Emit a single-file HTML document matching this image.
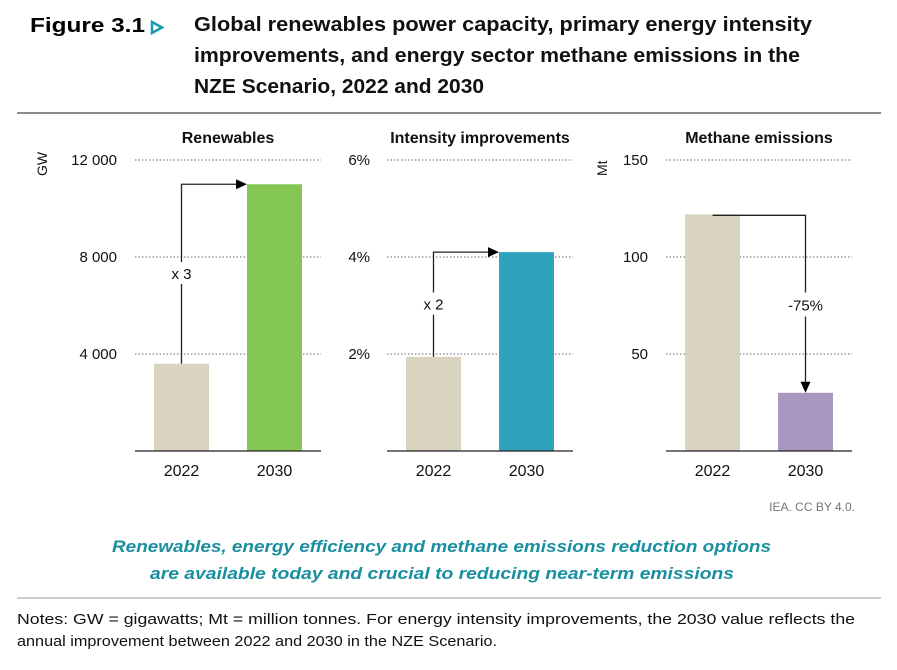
<!DOCTYPE html>
<html><head><meta charset="utf-8"><style>
body{margin:0;background:#fff;width:897px;height:665px;overflow:hidden;font-family:"Liberation Sans",sans-serif}
</style></head><body>
<svg width="897" height="665" xmlns="http://www.w3.org/2000/svg" font-family="Liberation Sans, sans-serif">
<text x="30" y="32" font-size="20" font-weight="900" fill="#000" textLength="115" lengthAdjust="spacingAndGlyphs">Figure 3.1</text>
<path d="M152 22 L162 27.5 L152 33 Z" fill="none" stroke="#1a9bb0" stroke-width="2.5"/>
<g font-size="20" font-weight="bold" fill="#111">
<text x="194" y="31" textLength="618" lengthAdjust="spacingAndGlyphs">Global renewables power capacity, primary energy intensity</text>
<text x="194" y="62" textLength="606" lengthAdjust="spacingAndGlyphs">improvements, and energy sector methane emissions in the</text>
<text x="194" y="93" textLength="290" lengthAdjust="spacingAndGlyphs">NZE Scenario, 2022 and 2030</text>
</g>
<line x1="17" y1="113" x2="881" y2="113" stroke="#8c8c8c" stroke-width="2"/>
<g id="charts"></g>
<text x="855" y="511" font-size="12" fill="#777" text-anchor="end">IEA. CC BY 4.0.</text>
<g font-size="17" font-weight="bold" font-style="italic" fill="#1a8fa0">
<text x="112" y="552" textLength="659" lengthAdjust="spacingAndGlyphs">Renewables, energy efficiency and methane emissions reduction options</text>
<text x="150" y="579" textLength="584" lengthAdjust="spacingAndGlyphs">are available today and crucial to reducing near-term emissions</text>
</g>
<line x1="17" y1="598" x2="881" y2="598" stroke="#999" stroke-width="1"/>
<g font-size="15" fill="#111">
<text x="17" y="624" textLength="838" lengthAdjust="spacingAndGlyphs">Notes: GW = gigawatts; Mt = million tonnes. For energy intensity improvements, the 2030 value reflects the</text>
<text x="17" y="646" textLength="480" lengthAdjust="spacingAndGlyphs">annual improvement between 2022 and 2030 in the NZE Scenario.</text>
</g>
</svg>
<script>
const categories=["2022","2030"];
const renewablesValues=[3600,11000];
const intensityValues=[1.94,4.1];
const methaneValues=[122,30];
const renewablesTicks=[4000,8000,12000];
const intensityTicks=[2,4,6];
const methaneTicks=[50,100,150];
const renewablesTickLabels=["4 000","8 000","12 000"];
const intensityTickLabels=["2%","4%","6%"];
const methaneTickLabels=["50","100","150"];
const panelTitles=["Renewables","Intensity improvements","Methane emissions"];
const annotations=["x 3","x 2","-75%"];

const NS="http://www.w3.org/2000/svg";
const root=document.getElementById('charts');
function mk(tag,attrs,parent){const e=document.createElementNS(NS,tag);for(const k in attrs)e.setAttribute(k,attrs[k]);(parent||root).appendChild(e);return e;}
const panels=[
 {x0:135,tx:117,max:12000,vals:renewablesValues,ticks:renewablesTicks,labels:renewablesTickLabels,colors:["#d9d4bf","#84c853"],unit:"GW",slug:"renewables",up:true},
 {x0:387,tx:370,max:6,vals:intensityValues,ticks:intensityTicks,labels:intensityTickLabels,colors:["#d9d4bf","#2fa3be"],unit:"",slug:"intensity",up:true},
 {x0:666,tx:648,max:150,vals:methaneValues,ticks:methaneTicks,labels:methaneTickLabels,colors:["#d9d4bf","#a997bf"],unit:"Mt",slug:"methane",up:false}
];
const baseY=451,topY=160,plotW=186;
panels.forEach((p,pi)=>{
 const g=mk('g',{});
 
 
 const y=v=>baseY-(v/p.max)*(baseY-topY);
 const xc=i=>p.x0+plotW/4+i*plotW/2;
 const t=mk('text',{x:p.x0+plotW/2,y:143,'font-size':16,'font-weight':'bold','text-anchor':'middle',fill:'#111'},g);
 t.textContent=panelTitles[pi];
 
 
 p.ticks.forEach((v,i)=>{
  const l=mk('line',{x1:p.x0,x2:p.x0+plotW,y1:y(v),y2:y(v),stroke:'#999','stroke-width':1.5,'stroke-dasharray':'1.5 2'},g);
  
  
  const tl=mk('text',{x:p.tx,y:y(v)+5,'font-size':15,'text-anchor':'end',fill:'#111'},g);
  tl.textContent=p.labels[i];
  
  
 });
 if(p.unit){
  const ux=pi===2?p.x0-59:p.x0-88;
  const u=mk('text',{transform:`translate(${ux},176) rotate(-90)`,'font-size':14,fill:'#111'},g);
  u.textContent=p.unit;
  
  
 }
 p.vals.forEach((v,i)=>{
  const r=mk('rect',{x:xc(i)-27.5,y:y(v),width:55,height:baseY-y(v),fill:p.colors[i]},g);
  
  
  const c=mk('text',{x:xc(i),y:476,'font-size':16,'text-anchor':'middle',fill:'#111'},g);
  c.textContent=categories[i];
  
  
 });
 const ax=mk('line',{x1:p.x0,x2:p.x0+plotW,y1:baseY,y2:baseY,stroke:'#222','stroke-width':1.2},g);
 
 
 const a=mk('g',{},g);
 
 
 let ly;
 if(p.up){
  const x1=xc(0),y1=y(p.vals[0]),y2=y(p.vals[1]),x2=xc(1)-27.5;
  mk('path',{d:`M${x1} ${y1} V${y2} H${x2-10}`,fill:'none',stroke:'#222','stroke-width':1.3},a);
  mk('path',{d:`M${x2-11} ${y2-5} L${x2} ${y2} L${x2-11} ${y2+5} Z`,fill:'#000'},a);
  ly=(y1+y2)/2;
  mk('rect',{x:x1-14,y:ly-12,width:28,height:22,fill:'#fff'},a);
  const at=mk('text',{x:x1,y:ly+5,'font-size':15,'text-anchor':'middle',fill:'#111'},a);
  at.textContent=annotations[pi];
 } else {
  const x1=xc(0),y1=y(p.vals[0])+1,x2=xc(1),y2=y(p.vals[1]);
  mk('path',{d:`M${x1} ${y1} H${x2} V${y2-10}`,fill:'none',stroke:'#222','stroke-width':1.3},a);
  mk('path',{d:`M${x2-5} ${y2-11} L${x2} ${y2} L${x2+5} ${y2-11} Z`,fill:'#000'},a);
  ly=y(75);
  mk('rect',{x:x2-20,y:ly-13,width:40,height:24,fill:'#fff'},a);
  const at=mk('text',{x:x2,y:ly+5,'font-size':15,'text-anchor':'middle',fill:'#111'},a);
  at.textContent=annotations[pi];
 }
});
</script>
</body></html>
